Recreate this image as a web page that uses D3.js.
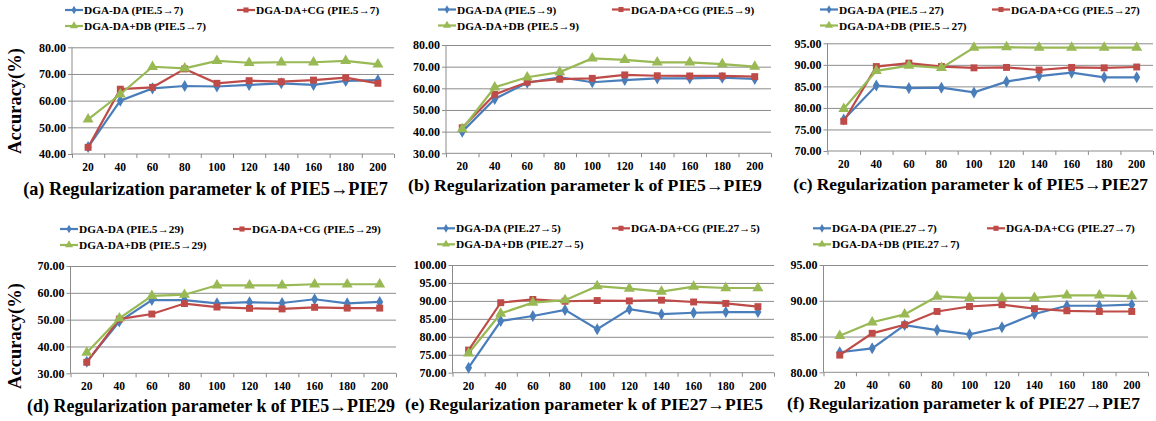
<!DOCTYPE html>
<html>
<head>
<meta charset="utf-8">
<script src="https://cdn.jsdelivr.net/npm/d3@7"></script>
<style>
  body { margin: 0; background: #fff; }
  svg text { font-family: "Liberation Serif", "Times New Roman", serif; font-weight: bold; fill: #000; }
  .axis path, .axis line { stroke: #8c8c8c; }
  .grid line { stroke: #8c8c8c; }
  .grid path { display: none; }
</style>
</head>
<body>
<svg id="chart" width="1156" height="421"></svg>
<script>
(function(d3) {
  'use strict';

  // k values on the x axis
  var kValues = [20, 40, 60, 80, 100, 120, 140, 160, 180, 200];
  var methods = ['DGA-DA', 'DGA-DA+CG', 'DGA-DA+DB'];
  var tasks = ['PIE.5\u21927', 'PIE.5\u21929', 'PIE.5\u219227', 'PIE.5\u219229', 'PIE.27\u21925', 'PIE.27\u21927'];
  var captions = [
    '(a) Regularization parameter k of PIE5\u2192PIE7',
    '(b) Regularization parameter k of PIE5\u2192PIE9',
    '(c) Regularization parameter k of PIE5\u2192PIE27',
    '(d) Regularization parameter k of PIE5\u2192PIE29',
    '(e) Regularization parameter k of PIE27\u2192PIE5',
    '(f) Regularization parameter k of PIE27\u2192PIE7'
  ];

  // y tick labels per panel
  var yTicksA = [40, 50, 60, 70, 80];
  var yTicksB = [30, 40, 50, 60, 70, 80];
  var yTicksC = [70, 75, 80, 85, 90, 95];
  var yTicksD = [30, 40, 50, 60, 70];
  var yTicksE = [70, 75, 80, 85, 90, 95, 100];
  var yTicksF = [80, 85, 90, 95];

  // accuracy (%)
  var daA = [42.6, 60.0, 64.6, 65.5, 65.3, 65.9, 66.5, 65.9, 67.4, 67.7];
  var cgA = [42.5, 64.3, 65.0, 71.9, 66.5, 67.5, 67.1, 67.7, 68.6, 66.5];
  var dbA = [53.0, 62.4, 72.7, 72.1, 74.9, 74.2, 74.4, 74.4, 74.9, 73.6];

  var daB = [40.0, 55.1, 62.6, 65.1, 62.8, 63.8, 64.6, 64.6, 64.9, 64.3];
  var cgB = [41.8, 57.2, 62.8, 64.2, 64.6, 66.2, 65.8, 65.7, 65.7, 65.4];
  var dbB = [41.2, 60.5, 65.1, 67.5, 73.8, 73.1, 72.0, 72.0, 71.2, 70.0];

  var daC = [77.3, 85.2, 84.6, 84.7, 83.6, 86.1, 87.4, 88.2, 87.1, 87.1];
  var cgC = [76.9, 89.6, 90.4, 89.6, 89.3, 89.4, 88.8, 89.4, 89.3, 89.5];
  var dbC = [79.8, 88.6, 89.8, 89.3, 94.0, 94.1, 94.0, 94.0, 94.0, 94.0];

  var daD = [34.3, 49.3, 57.3, 57.3, 56.1, 56.5, 56.2, 57.6, 56.1, 56.6];
  var cgD = [34.1, 50.2, 52.1, 56.0, 54.7, 54.2, 54.0, 54.6, 54.3, 54.3];
  var dbD = [37.7, 50.5, 58.9, 59.3, 62.8, 62.8, 62.8, 63.2, 63.2, 63.2];

  var daE = [71.4, 84.4, 85.8, 87.5, 82.1, 87.7, 86.3, 86.7, 86.9, 86.9];
  var cgE = [76.3, 89.5, 90.4, 89.9, 90.1, 90.0, 90.2, 89.7, 89.3, 88.4];
  var dbE = [75.4, 86.5, 89.5, 90.2, 94.1, 93.4, 92.6, 94.0, 93.6, 93.6];

  var daF = [82.8, 83.35, 86.6, 85.9, 85.3, 86.3, 88.15, 89.3, 89.3, 89.45];
  var cgF = [82.4, 85.45, 86.65, 88.5, 89.2, 89.45, 88.9, 88.6, 88.5, 88.5];
  var dbF = [85.1, 87.0, 88.1, 90.6, 90.4, 90.4, 90.4, 90.75, 90.75, 90.65];

  var colors = ['#4a7ebb', '#be4b48', '#98b954'];
  var shapes = [d3.symbolDiamond, d3.symbolSquare, d3.symbolTriangle];
  var markSize = [42, 48, 52];
  var legSize = [22, 26, 28];

  var panels = [
    { ticks: yTicksA, series: [daA, cgA, dbA], left: 72, right: 394, top: 47.3, bottom: 154,
      legX: 65, legY: 10, leg2X: 237, capX: 205.5, capY: 195, capW: 365, yTitle: [15, 101] },
    { ticks: yTicksB, series: [daB, cgB, dbB], left: 446, right: 771, top: 45, bottom: 153.3,
      legX: 438, legY: 9.5, leg2X: 612, capX: 585, capY: 191, capW: 354 },
    { ticks: yTicksC, series: [daC, cgC, dbC], left: 827.5, right: 1153, top: 43.3, bottom: 151,
      legX: 820, legY: 9.5, leg2X: 992, capX: 970.5, capY: 190, capW: 355 },
    { ticks: yTicksD, series: [daD, cgD, dbD], left: 70.5, right: 396, top: 266, bottom: 373.3,
      legX: 60, legY: 229, leg2X: 233, capX: 211, capY: 412, capW: 368, yTitle: [15, 336] },
    { ticks: yTicksE, series: [daE, cgE, dbE], left: 452.5, right: 774, top: 265, bottom: 372.7,
      legX: 437, legY: 228.3, leg2X: 612, capX: 584, capY: 410, capW: 358 },
    { ticks: yTicksF, series: [daF, cgF, dbF], left: 823.5, right: 1148, top: 265, bottom: 372.3,
      legX: 813, legY: 228.3, leg2X: 987, capX: 963.5, capY: 409, capW: 353 }
  ];

  var svg = d3.select('#chart');

  panels.forEach(function(p, pi) {
    var g = svg.append('g');
    var w = p.right - p.left;

    var x = d3.scaleBand().domain(kValues).range([p.left, p.right]).padding(0);
    var xEdge = d3.scaleLinear().domain([0, kValues.length]).range([p.left, p.right]);
    var y = d3.scaleLinear().domain(d3.extent(p.ticks)).range([p.bottom, p.top]);

    // horizontal gridlines
    g.append('g')
      .attr('class', 'grid')
      .attr('transform', 'translate(' + p.left + ',0)')
      .call(d3.axisLeft(y).tickValues(p.ticks.slice(1)).tickSize(-w).tickFormat(''));

    // y axis
    g.append('g')
      .attr('class', 'axis')
      .attr('transform', 'translate(' + p.left + ',0)')
      .call(d3.axisLeft(y).tickValues(p.ticks).tickSize(4).tickPadding(2)
        .tickFormat(d3.format('.2f')))
      .call(function(a) { a.select('.domain').attr('d', 'M0,' + p.top + 'V' + p.bottom); })
      .selectAll('text').style('font-size', '12px');

    // x axis: boundary ticks
    g.append('g')
      .attr('class', 'axis')
      .attr('transform', 'translate(0,' + p.bottom + ')')
      .call(d3.axisBottom(xEdge).tickValues(d3.range(kValues.length + 1)).tickSize(4).tickFormat(''))
      .call(function(a) { a.select('.domain').attr('d', 'M' + p.left + ',0H' + p.right); });

    // x axis: labels
    g.append('g')
      .attr('transform', 'translate(0,' + p.bottom + ')')
      .call(d3.axisBottom(x).tickSize(0).tickPadding(9))
      .call(function(a) { a.select('.domain').remove(); })
      .selectAll('text').style('font-size', '11.5px');

    var line = d3.line()
      .x(function(d, i) { return x(kValues[i]) + x.bandwidth() / 2; })
      .y(function(d) { return y(d); });

    p.series.forEach(function(vals, si) {
      g.append('path')
        .datum(vals)
        .attr('d', line)
        .attr('fill', 'none')
        .attr('stroke', colors[si])
        .attr('stroke-width', 2.2);

      g.selectAll('.m' + si)
        .data(vals)
        .enter()
        .append('path')
        .attr('class', 'm' + si)
        .attr('d', d3.symbol().type(shapes[si]).size(markSize[si]))
        .attr('fill', colors[si])
        .attr('transform', function(d, i) {
          return 'translate(' + (x(kValues[i]) + x.bandwidth() / 2) + ',' + y(d) + ')';
        });
    });

    // legend
    var legPos = [[p.legX, p.legY], [p.leg2X, p.legY], [p.legX, p.legY + 16]];
    methods.forEach(function(m, si) {
      var lg = g.append('g')
        .attr('transform', 'translate(' + legPos[si][0] + ',' + legPos[si][1] + ')');
      lg.append('line')
        .attr('x1', 0).attr('x2', 18)
        .attr('stroke', colors[si])
        .attr('stroke-width', 2.2);
      lg.append('path')
        .attr('d', d3.symbol().type(shapes[si]).size(legSize[si]))
        .attr('transform', 'translate(9,0)')
        .attr('fill', colors[si]);
      lg.append('text')
        .attr('x', 19)
        .attr('dy', '0.36em')
        .style('font-size', '11.3px')
        .text(m + ' (' + tasks[pi] + ')');
    });

    // caption, sized to the width it takes in the figure
    var cap = g.append('text')
      .attr('x', p.capX)
      .attr('y', p.capY)
      .attr('text-anchor', 'middle')
      .style('font-size', '18px')
      .text(captions[pi]);
    var len = cap.node().getComputedTextLength();
    cap.style('font-size', Math.min(19, 18 * p.capW / len) + 'px');

    if (p.yTitle) {
      g.append('text')
        .attr('transform', 'translate(' + p.yTitle[0] + ',' + p.yTitle[1] + ') rotate(-90)')
        .attr('text-anchor', 'middle')
        .attr('dy', '0.35em')
        .style('font-size', '18.5px')
        .text('Accuracy(%)');
    }
  });

})(window.d3);
</script>
</body>
</html>
